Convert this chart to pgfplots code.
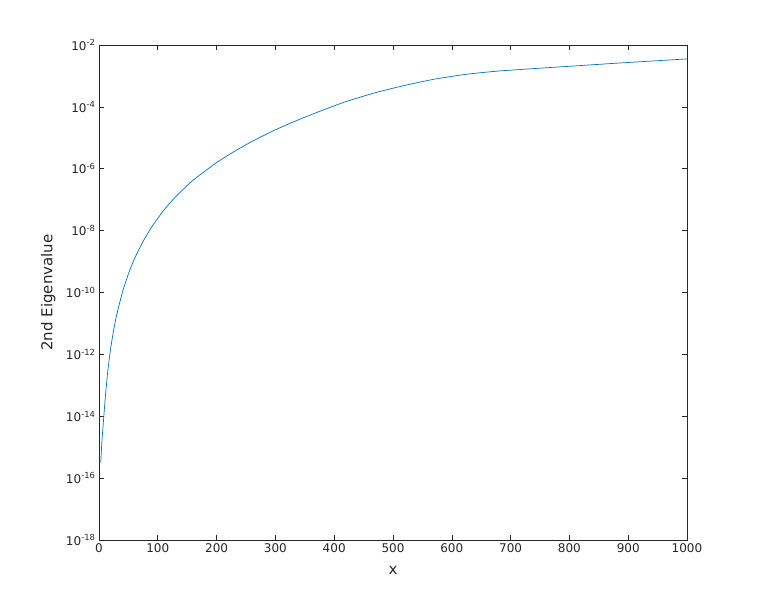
\documentclass[border=0pt]{standalone}
\usepackage{fontspec}
\setmainfont{DejaVu Sans}
\usepackage{pgfplots}
\pgfplotsset{compat=1.18}
\definecolor{mblue}{RGB}{0,114,189}
\definecolor{axgray}{RGB}{38,38,38}
\begin{document}
\begin{tikzpicture}[x=1bp,y=1bp]
\begin{axis}[
  scale only axis,
  width=588bp, height=495bp,
  xmin=0, xmax=1000,
  ymode=log, log basis y=10,
  ymin=1e-18, ymax=1e-2,
  xtick={0,100,...,1000},
  ytick={1e-18,1e-16,1e-14,1e-12,1e-10,1e-8,1e-6,1e-4,1e-2},
  yminorticks=false,
  xticklabel style={font=\fontsize{12bp}{14bp}\selectfont, text=axgray},
  yticklabel={10\textsuperscript{\pgfmathtruncatemacro{\ee}{round(\tick)}\ee}},
  yticklabel style={font=\fontsize{12bp}{14bp}\selectfont, text=axgray},
  scaled x ticks=false,
  xticklabel={\pgfmathprintnumber[assume math mode=true,fixed,precision=0,set thousands separator={}]{\tick}},
  axis line style={axgray, line width=0.6bp},
  every tick/.style={axgray, line width=0.6bp},
  major tick length=5bp,
  tick align=inside,
  xlabel={x}, ylabel={2nd Eigenvalue},
  label style={font=\fontsize{15bp}{18bp}\selectfont, text=axgray},
  xlabel style={at={(axis description cs:0.5,0)}, anchor=north, yshift=-23bp},
  ylabel style={at={(axis description cs:0,0.5)}, anchor=south, yshift=40bp},
  clip=true,
]
\addplot[mblue, line width=0.7bp, smooth, tension=0.3] coordinates {
(3,3.2e-16)
(5,1.6e-15)
(8,8.9e-15)
(11,4.7e-14)
(15,2.95e-13)
(20,1.66e-12)
(25,6.3e-12)
(30,1.86e-11)
(40,1.05e-10)
(50,4.0e-10)
(60,1.2e-9)
(75,4.5e-9)
(90,1.35e-8)
(110,4.5e-8)
(130,1.23e-7)
(160,4.27e-7)
(200,1.585e-6)
(230,3.63e-6)
(260,7.59e-6)
(300,1.82e-5)
(340,3.89e-5)
(380,7.76e-5)
(420,1.48e-4)
(470,2.88e-4)
(520,4.95e-4)
(570,7.85e-4)
(625,1.135e-3)
(680,1.445e-3)
(750,1.78e-3)
(810,2.11e-3)
(870,2.51e-3)
(930,2.95e-3)
(1000,3.55e-3)
};
\end{axis}
\path ([xshift=-99bp,yshift=-68bp]current axis.south west) rectangle ([xshift=74bp,yshift=45bp]current axis.north east);
\end{tikzpicture}
\end{document}
